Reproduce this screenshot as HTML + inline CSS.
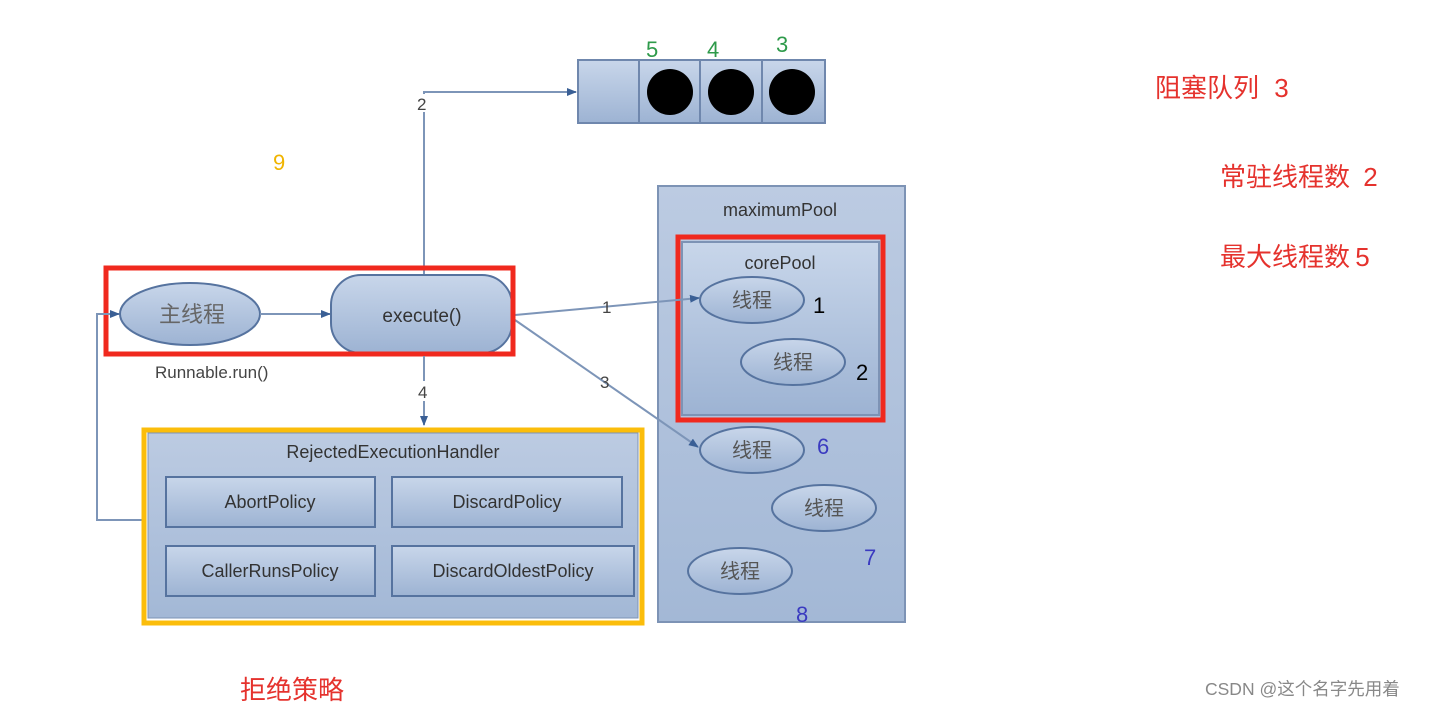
<!DOCTYPE html>
<html><head><meta charset="utf-8"><style>
body{margin:0;background:#fff;}
svg{display:block;font-family:"Liberation Sans","Noto Sans CJK SC",sans-serif;}
</style></head><body>
<svg width="1430" height="707" viewBox="0 0 1430 707">
<defs>
<linearGradient id="g" x1="0" y1="0" x2="0" y2="1"><stop offset="0" stop-color="#c8d6ea"/><stop offset="1" stop-color="#9db3d3"/></linearGradient>
<linearGradient id="gb" x1="0" y1="0" x2="0" y2="1"><stop offset="0" stop-color="#bccbe2"/><stop offset="1" stop-color="#a3b8d6"/></linearGradient>
<marker id="a" markerWidth="10" markerHeight="10" refX="9" refY="5" orient="auto" markerUnits="userSpaceOnUse"><path d="M0,1 L10,5 L0,9z" fill="#3a5f95"/></marker>
</defs>
<rect x="578" y="60" width="247" height="63" fill="url(#g)" stroke="#6f87ad" stroke-width="2"/>
<line x1="639" y1="60" x2="639" y2="123" stroke="#6f87ad" stroke-width="2"/>
<line x1="700" y1="60" x2="700" y2="123" stroke="#6f87ad" stroke-width="2"/>
<line x1="762" y1="60" x2="762" y2="123" stroke="#6f87ad" stroke-width="2"/>
<circle cx="670" cy="92" r="23" fill="#000"/><circle cx="731" cy="92" r="23" fill="#000"/><circle cx="792" cy="92" r="23" fill="#000"/>
<g fill="#2e9a4a" font-size="22"><text x="646" y="57">5</text><text x="707" y="57">4</text><text x="776" y="52">3</text></g>
<polyline points="424,275 424,92 576,92" fill="none" stroke="#7d95b8" stroke-width="2" marker-end="url(#a)"/>
<rect x="414" y="94" width="18" height="18" fill="#fff"/>
<text x="417" y="110" font-size="17" fill="#444">2</text>
<text x="273" y="170" font-size="22" fill="#f0b400">9</text>
<rect x="658" y="186" width="247" height="436" fill="url(#gb)" stroke="#7d93b5" stroke-width="2"/>
<text x="780" y="216" font-size="18" fill="#333" text-anchor="middle">maximumPool</text>
<rect x="682" y="242" width="197" height="173" fill="url(#g)" stroke="#7d93b5" stroke-width="2"/>
<rect x="678" y="237" width="205" height="183" fill="none" stroke="#f0291e" stroke-width="5"/>
<text x="780" y="269" font-size="18" fill="#333" text-anchor="middle">corePool</text>
<g fill="url(#g)" stroke="#56739f" stroke-width="2">
<ellipse cx="752" cy="300" rx="52" ry="23"/><ellipse cx="793" cy="362" rx="52" ry="23"/><ellipse cx="752" cy="450" rx="52" ry="23"/><ellipse cx="824" cy="508" rx="52" ry="23"/><ellipse cx="740" cy="571" rx="52" ry="23"/>
</g>
<g font-size="20" fill="#555" text-anchor="middle">
<text x="752" y="307">线程</text><text x="793" y="369">线程</text><text x="752" y="457">线程</text><text x="824" y="515">线程</text><text x="740" y="578">线程</text>
</g>
<g font-size="22"><text x="813" y="313" fill="#000">1</text><text x="856" y="380" fill="#000">2</text>
<text x="817" y="454" fill="#3a3ac0">6</text><text x="864" y="565" fill="#3a3ac0">7</text><text x="796" y="622" fill="#3a3ac0">8</text></g>
<line x1="515" y1="315" x2="699" y2="298" stroke="#7d95b8" stroke-width="2" marker-end="url(#a)"/>
<text x="602" y="313" font-size="17" fill="#444">1</text>
<line x1="515" y1="320" x2="698" y2="447" stroke="#7d95b8" stroke-width="2" marker-end="url(#a)"/>
<text x="600" y="388" font-size="17" fill="#444">3</text>
<ellipse cx="190" cy="314" rx="70" ry="31" fill="url(#g)" stroke="#56739f" stroke-width="2"/>
<text x="192" y="322" font-size="22" fill="#666" text-anchor="middle">主线程</text>
<line x1="260" y1="314" x2="330" y2="314" stroke="#7d95b8" stroke-width="2" marker-end="url(#a)"/>
<rect x="331" y="275" width="181" height="78" rx="30" fill="url(#g)" stroke="#56739f" stroke-width="2"/>
<text x="422" y="322" font-size="19" fill="#333" text-anchor="middle">execute()</text>
<rect x="106" y="268" width="407" height="86" fill="none" stroke="#f0291e" stroke-width="5"/>
<text x="155" y="378" font-size="17" fill="#444">Runnable.run()</text>
<line x1="424" y1="356" x2="424" y2="425" stroke="#7d95b8" stroke-width="2" marker-end="url(#a)"/>
<rect x="416" y="381" width="16" height="20" fill="#fff"/>
<text x="418" y="398" font-size="17" fill="#444">4</text>
<polyline points="142,520 97,520 97,314 119,314" fill="none" stroke="#7d95b8" stroke-width="2" marker-end="url(#a)"/>
<rect x="148" y="433" width="490" height="185" fill="url(#gb)" stroke="#7d93b5"/>
<rect x="144" y="430" width="498" height="193" fill="none" stroke="#fbbd0b" stroke-width="5"/>
<text x="393" y="458" font-size="18" fill="#333" text-anchor="middle">RejectedExecutionHandler</text>
<g fill="url(#g)" stroke="#56739f" stroke-width="2">
<rect x="166" y="477" width="209" height="50"/><rect x="392" y="477" width="230" height="50"/>
<rect x="166" y="546" width="209" height="50"/><rect x="392" y="546" width="242" height="50"/>
</g>
<g font-size="18" fill="#333" text-anchor="middle">
<text x="270" y="508">AbortPolicy</text><text x="507" y="508">DiscardPolicy</text>
<text x="270" y="577">CallerRunsPolicy</text><text x="513" y="577">DiscardOldestPolicy</text>
</g>
<g fill="#e5322d" font-size="26">
<text x="1155" y="97">阻塞队列 <tspan dx="8">3</tspan></text>
<text x="1220" y="186">常驻线程数 <tspan dx="6">2</tspan></text>
<text x="1220" y="266">最大线程数 <tspan dx="-2">5</tspan></text>
<text x="240" y="699">拒绝策略</text>
</g>
<text x="1205" y="695" font-size="17.5" fill="#888">CSDN @这个名字先用着</text>
</svg>
</body></html>
